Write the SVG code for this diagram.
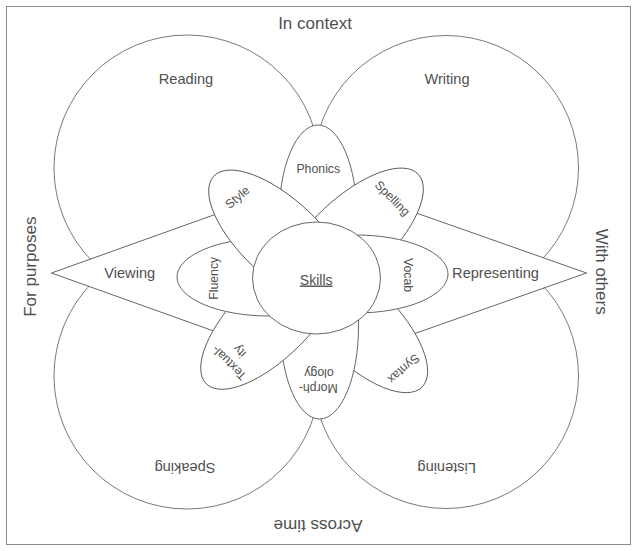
<svg xmlns="http://www.w3.org/2000/svg" width="638" height="551" viewBox="0 0 638 551">
<style>
  .frame{fill:#fff;stroke:#8a8a8a;stroke-width:1}
  .circ{fill:#fff;stroke:#6a6a6a;stroke-width:0.9}
  .tri{fill:#fff;stroke:#555;stroke-width:0.9}
  .pet{fill:#fff;stroke:#555;stroke-width:0.9}
  text{font-family:"Liberation Sans",Arial,Helvetica,sans-serif;fill:#505050}
  .big{font-size:17px;text-anchor:middle}
  .mid{font-size:14.6px;text-anchor:middle}
  .sm{font-size:12.3px;text-anchor:middle}
</style>
<rect class="frame" x="6.5" y="6.5" width="624" height="538"/>
<text class="big" x="315" y="29">In context</text>
<text class="big" transform="translate(318,520) rotate(180)">Across time</text>
<text class="big" transform="translate(36,266.7) rotate(-90)">For purposes</text>
<text class="big" transform="translate(595.5,271.7) rotate(90)">With others</text>

<g id="reading"><circle class="circ" cx="187" cy="168" r="133"/><text class="mid" x="186" y="84">Reading</text></g>
<g id="writing"><circle class="circ" cx="446" cy="168" r="132.5"/><text class="mid" x="447" y="84">Writing</text></g>
<g id="speaking"><circle class="circ" cx="187" cy="376" r="133"/><text class="mid" transform="translate(185,462.7) rotate(180)">Speaking</text></g>
<g id="listening"><circle class="circ" cx="446" cy="376" r="132.5"/><text class="mid" transform="translate(446.7,463) rotate(180)">Listening</text></g>

<g id="viewing"><polygon class="tri" points="51.5,273 317,178 317,368"/><text class="mid" x="129.7" y="278.3">Viewing</text></g>
<g id="representing"><polygon class="tri" points="586.5,273 317,178 317,368"/><text class="mid" x="495.5" y="278.3">Representing</text></g>

<g id="phonics"><ellipse class="pet" cx="318" cy="217" rx="39" ry="92"/><text class="sm" x="318.3" y="173">Phonics</text></g>
<g id="syntax"><ellipse class="pet" cx="357" cy="322" rx="92" ry="39" transform="rotate(45 357 322)"/><text class="sm" transform="translate(401,365.7) rotate(139)">Syntax</text></g>
<g id="morphology"><ellipse class="pet" cx="319.5" cy="327" rx="39" ry="92"/><text class="sm" transform="translate(318.3,384) rotate(180)">Morph-</text><text class="sm" transform="translate(319,368.5) rotate(180)">ology</text></g>
<g id="textuality"><ellipse class="pet" cx="272" cy="318" rx="93" ry="39" transform="rotate(-45 272 318)"/><text class="sm" transform="translate(232,360) rotate(225)">Textual-</text><text class="sm" transform="translate(242.5,348.3) rotate(225)">ity</text></g>
<g id="fluency"><ellipse class="pet" cx="269" cy="277" rx="92" ry="39"/><text class="sm" transform="translate(217.5,278.3) rotate(-90)">Fluency</text></g>
<g id="spelling"><ellipse class="pet" cx="351" cy="237" rx="92" ry="39" transform="rotate(-43 351 237)"/><text class="sm" transform="translate(389.5,201.2) rotate(45)">Spelling</text></g>
<g id="vocab"><ellipse class="pet" cx="356" cy="274" rx="92" ry="39"/><text class="sm" transform="translate(404,275) rotate(90)">Vocab</text></g>
<g id="style"><ellipse class="pet" cx="281" cy="239" rx="92" ry="39" transform="rotate(43 281 239)"/><text class="sm" transform="translate(240,200.5) rotate(-40)">Style</text></g>

<g id="skills"><ellipse class="pet" cx="316.5" cy="278" rx="64" ry="56"/><text x="316.2" y="284.5" style="font-size:14px;text-anchor:middle;text-decoration:underline">Skills</text></g>
<g id="connectors"></g>
</svg>
